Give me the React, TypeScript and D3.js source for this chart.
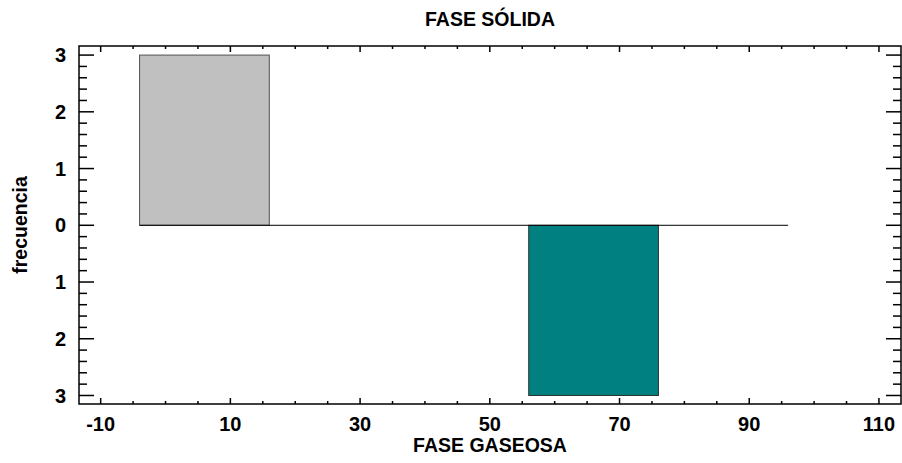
import * as d3 from "d3";

// bins (edges) and counts for each phase
const binEdges = [-4, 16, 36, 56, 76, 96];
const solidCounts = [3, 0, 0, 0, 0];
const gasCounts = [0, 0, 0, 3, 0];
const xTicks = [-10, 10, 30, 50, 70, 90, 110];
const yTicks = [0, 1, 2, 3];

const W = 902;
const H = 463;
const margin = { top: 46, right: 1, bottom: 59, left: 79 };
const font = "'Liberation Sans', Arial, sans-serif";

export default function App() {
  const x = d3
    .scaleLinear()
    .domain([-13.34, 113.4])
    .range([margin.left, W - margin.right]);
  // top half positive (solid), bottom half mirrored (gas)
  const y = d3
    .scaleLinear()
    .domain([3.16, -3.15])
    .range([margin.top, H - margin.bottom]);

  const x0 = margin.left;
  const x1 = W - margin.right;
  const y0 = margin.top;
  const y1 = H - margin.bottom;

  const xMinor = d3.range(-10, 111, 5);
  const yMinor = d3.range(-15, 16).map((d) => d / 5);

  const bins = solidCounts.map((c, i) => ({
    lo: binEdges[i],
    hi: binEdges[i + 1],
    solid: c,
    gas: gasCounts[i],
  }));

  return (
    <svg width={W} height={H} style={{ position: "absolute", left: 0, top: 0 }}>
      <rect x={0} y={0} width={W} height={H} fill="#fff" />
      <text
        x={(x0 + x1) / 2}
        y={26}
        textAnchor="middle"
        fontFamily={font}
        fontWeight="bold"
        fontSize={19.5}
      >
        FASE SÓLIDA
      </text>
      <text
        x={(x0 + x1) / 2}
        y={452}
        textAnchor="middle"
        fontFamily={font}
        fontWeight="bold"
        fontSize={19.5}
      >
        FASE GASEOSA
      </text>
      <text
        transform={`translate(27,${(y0 + y1) / 2}) rotate(-90)`}
        textAnchor="middle"
        fontFamily={font}
        fontWeight="bold"
        fontSize={19.5}
      >
        frecuencia
      </text>

      {/* bars */}
      {bins.map((b, i) =>
        b.solid > 0 ? (
          <rect
            key={"s" + i}
            x={x(b.lo)}
            y={y(b.solid)}
            width={x(b.hi) - x(b.lo)}
            height={y(0) - y(b.solid)}
            fill="#c0c0c0"
            stroke="#505050"
            strokeWidth={1}
          />
        ) : null
      )}
      {bins.map((b, i) =>
        b.gas > 0 ? (
          <rect
            key={"g" + i}
            x={x(b.lo)}
            y={y(0)}
            width={x(b.hi) - x(b.lo)}
            height={y(-b.gas) - y(0)}
            fill="#008080"
            stroke="#303030"
            strokeWidth={1}
          />
        ) : null
      )}
      <line
        x1={x(binEdges[0])}
        x2={x(binEdges[binEdges.length - 1])}
        y1={y(0)}
        y2={y(0)}
        stroke="#000"
        strokeWidth={1}
      />

      {/* frame */}
      <rect
        x={x0}
        y={y0}
        width={x1 - x0}
        height={y1 - y0}
        fill="none"
        stroke="#000"
        strokeWidth={1.5}
      />

      {/* x ticks */}
      {xMinor.map((t) => {
        const major = xTicks.includes(t);
        const len = major ? 6 : 3;
        return (
          <g key={"xt" + t}>
            <line x1={x(t)} x2={x(t)} y1={y1} y2={y1 - len} stroke="#000" strokeWidth={1.5} />
            <line x1={x(t)} x2={x(t)} y1={y0} y2={y0 + len} stroke="#000" strokeWidth={1.5} />
          </g>
        );
      })}
      {xTicks.map((t) => (
        <text
          key={"xl" + t}
          x={x(t)}
          y={y1 + 27}
          textAnchor="middle"
          fontFamily={font}
          fontWeight="bold"
          fontSize={20}
        >
          {t}
        </text>
      ))}

      {/* y ticks */}
      {yMinor.map((t) => {
        const major = Math.abs(t - Math.round(t)) < 1e-6;
        const len = major ? 15 : 8;
        return (
          <g key={"yt" + t}>
            <line x1={x0} x2={x0 + len} y1={y(t)} y2={y(t)} stroke="#000" strokeWidth={1.5} />
            <line x1={x1} x2={x1 - len} y1={y(t)} y2={y(t)} stroke="#000" strokeWidth={1.5} />
          </g>
        );
      })}
      {yTicks.flatMap((t) =>
        (t === 0 ? [0] : [t, -t]).map((v) => (
          <text
            key={"yl" + v}
            x={66}
            y={y(v)}
            dy="0.36em"
            textAnchor="end"
            fontFamily={font}
            fontWeight="bold"
            fontSize={20}
          >
            {t}
          </text>
        ))
      )}
    </svg>
  );
}
